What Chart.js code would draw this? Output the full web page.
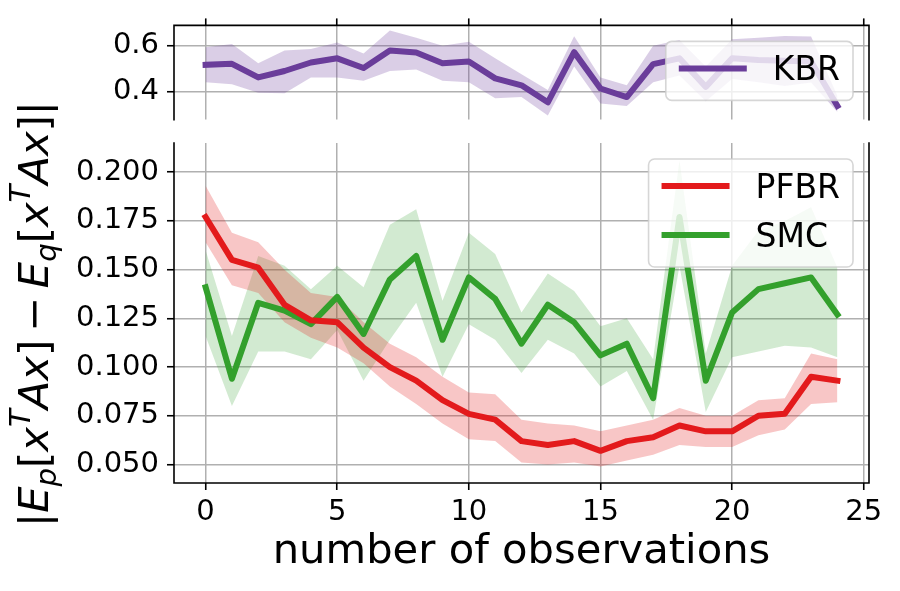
<!DOCTYPE html>
<html>
<head>
<meta charset="utf-8">
<script src="https://cdn.jsdelivr.net/npm/chart.js@4.4.0/dist/chart.umd.min.js"></script>
<style>
  body { margin: 0; background: #fff; }
  #wrap { position: relative; width: 900px; height: 591px; }
  canvas { position: absolute; left: 0; top: 0; }
</style>
</head>
<body>
<div id="wrap">
  <canvas id="bottom" width="900" height="591"></canvas>
  <canvas id="top" width="900" height="145"></canvas>
</div>
<script>
// number of observations
const obs = [0, 1, 2, 3, 4, 5, 6, 7, 8, 9, 10, 11, 12, 13, 14, 15, 16, 17, 18, 19, 20, 21, 22, 23, 24]

// KBR (top panel)
const kbrMean = [0.517, 0.521, 0.462, 0.490, 0.527, 0.545, 0.503, 0.579, 0.570, 0.524, 0.531, 0.458, 0.428, 0.354, 0.572, 0.414, 0.377, 0.520, 0.545, 0.421, 0.545, 0.538, 0.534, 0.531, 0.338]
const kbrHigh = [0.593, 0.607, 0.524, 0.579, 0.586, 0.614, 0.566, 0.666, 0.634, 0.600, 0.617, 0.545, 0.476, 0.407, 0.641, 0.462, 0.428, 0.600, 0.625, 0.510, 0.628, 0.634, 0.642, 0.640, 0.383]
const kbrLow = [0.441, 0.432, 0.396, 0.393, 0.462, 0.462, 0.448, 0.490, 0.497, 0.448, 0.441, 0.372, 0.377, 0.297, 0.510, 0.349, 0.338, 0.441, 0.470, 0.359, 0.455, 0.441, 0.425, 0.440, 0.312]

// PFBR
const pfbrMean = [0.177, 0.155, 0.151, 0.132, 0.124, 0.123, 0.110, 0.100, 0.093, 0.083, 0.076, 0.073, 0.062, 0.060, 0.062, 0.057, 0.062, 0.064, 0.070, 0.067, 0.067, 0.075, 0.076, 0.095, 0.093]
const pfbrHigh = [0.193, 0.169, 0.164, 0.150, 0.138, 0.136, 0.123, 0.112, 0.105, 0.095, 0.087, 0.086, 0.073, 0.071, 0.070, 0.067, 0.070, 0.073, 0.079, 0.075, 0.075, 0.083, 0.084, 0.107, 0.104]
const pfbrLow = [0.164, 0.142, 0.138, 0.123, 0.115, 0.110, 0.102, 0.090, 0.081, 0.071, 0.063, 0.062, 0.051, 0.050, 0.051, 0.049, 0.052, 0.055, 0.060, 0.059, 0.059, 0.065, 0.068, 0.081, 0.082]

// SMC
const smcMean = [0.141, 0.094, 0.133, 0.129, 0.122, 0.136, 0.117, 0.145, 0.157, 0.114, 0.146, 0.135, 0.112, 0.132, 0.123, 0.106, 0.112, 0.084, 0.177, 0.093, 0.128, 0.140, 0.143, 0.146, 0.127]
const smcHigh = [0.160, 0.116, 0.157, 0.152, 0.140, 0.152, 0.141, 0.173, 0.181, 0.134, 0.169, 0.158, 0.128, 0.148, 0.139, 0.121, 0.125, 0.104, 0.206, 0.107, 0.152, 0.170, 0.175, 0.182, 0.151]
const smcLow = [0.116, 0.080, 0.108, 0.108, 0.104, 0.119, 0.093, 0.114, 0.133, 0.095, 0.122, 0.114, 0.097, 0.114, 0.107, 0.090, 0.098, 0.073, 0.152, 0.077, 0.105, 0.108, 0.111, 0.110, 0.105]

// ticks
const xTicks = [0, 5, 10, 15, 20, 25]
const topYTicks = [0.4, 0.6]
const bottomYTicks = [0.05, 0.075, 0.1, 0.125, 0.15, 0.175, 0.2]

const RED = '#e31a1c', GREEN = '#33a02c', PURPLE = '#6a3d9a'
const FONT = "'DejaVu Sans', sans-serif"
const GRID = '#b0b0b0'

Chart.defaults.font.family = FONT
Chart.defaults.color = '#000'

function pts(vals) {
    return vals.map((v, i) => ({ x: obs[i], y: v }))
}

function lineSet(label, vals, color) {
    return {
        label, data: pts(vals), borderColor: color, borderWidth: 6,
        pointRadius: 0, fill: false, order: 0,
        borderJoinStyle: 'round', borderCapStyle: 'square'
    }
}

function bandSets(high, low, color) {
    return [
        { label: '_band', data: pts(high), borderColor: 'transparent', borderWidth: 0, pointRadius: 0, fill: '+1', backgroundColor: color, order: 1 },
        { label: '_band', data: pts(low), borderColor: 'transparent', borderWidth: 0, pointRadius: 0, fill: false, order: 1 }
    ]
}

// axis lines drawn by hand so the broken-axis look can drop the inner edges
const spines = {
    id: 'spines',
    afterDatasetsDraw(chart, args, opts) {
        const { ctx, chartArea: a } = chart
        ctx.save()
        ctx.strokeStyle = '#000'
        ctx.lineWidth = 1.6
        ctx.lineCap = 'square'
        ctx.beginPath()
        opts.sides.forEach(s => {
            if (s === 'left') { ctx.moveTo(a.left, a.top); ctx.lineTo(a.left, a.bottom) }
            if (s === 'right') { ctx.moveTo(a.right, a.top); ctx.lineTo(a.right, a.bottom) }
            if (s === 'top') { ctx.moveTo(a.left, a.top); ctx.lineTo(a.right, a.top) }
            if (s === 'bottom') { ctx.moveTo(a.left, a.bottom); ctx.lineTo(a.right, a.bottom) }
        })
        ctx.stroke()
        ctx.restore()
    }
}

// matplotlib-like legend box in the upper right
const boxLegend = {
    id: 'boxLegend',
    afterDatasetsDraw(chart, args, opts) {
        const { ctx, chartArea: a } = chart
        const size = 33
        ctx.save()
        ctx.font = size + 'px ' + FONT
        const textW = Math.max(...opts.items.map(it => ctx.measureText(it.label).width))
        const pad = 13, handle = 68, gap = 26, rowGap = 49
        const w = pad + handle + gap + textW + pad
        const h = 27 + rowGap * (opts.items.length - 1) + 32
        const right = a.right - 16
        const top = a.top + 16
        const left = right - w
        ctx.beginPath()
        ctx.roundRect(left, top, w, h, 6)
        ctx.fillStyle = 'rgba(255,255,255,0.8)'
        ctx.fill()
        ctx.strokeStyle = 'rgba(204,204,204,0.8)'
        ctx.lineWidth = 1.6
        ctx.stroke()
        opts.items.forEach((it, i) => {
            const y = top + 27 + rowGap * i
            ctx.beginPath()
            ctx.moveTo(left + pad, y)
            ctx.lineTo(left + pad + handle, y)
            ctx.strokeStyle = it.color
            ctx.lineWidth = 6
            ctx.stroke()
            ctx.fillStyle = '#000'
            ctx.textBaseline = 'alphabetic'
            ctx.fillText(it.label, left + pad + handle + gap, y + 12)
        })
        ctx.restore()
    }
}

// rotated math-style y label spanning both panels
const yTitle = {
    id: 'yTitle',
    afterDraw(chart) {
        const ctx = chart.ctx
        const size = 41.7
        // [text, italic, 0 normal / 1 sub / 2 sup]
        const parts = [
            ['|', 0, 0], ['E', 1, 0], ['p', 1, 1], ['[', 0, 0], ['x', 1, 0], ['T', 1, 2], ['A', 1, 0], ['x', 1, 0], [']', 0, 0],
            ['\u2009\u2212\u2009', 0, 0],
            ['E', 1, 0], ['q', 1, 1], ['[', 0, 0], ['x', 1, 0], ['T', 1, 2], ['A', 1, 0], ['x', 1, 0], [']', 0, 0], ['|', 0, 0]
        ]
        const fontOf = p => (p[1] ? 'italic ' : '') + (p[2] ? size * 0.7 : size) + 'px ' + FONT
        ctx.save()
        let total = 0
        const widths = parts.map(p => { ctx.font = fontOf(p); const w = ctx.measureText(p[0]).width; total += w; return w })
        ctx.translate(48, 314)
        ctx.rotate(-Math.PI / 2)
        ctx.fillStyle = '#000'
        ctx.textBaseline = 'alphabetic'
        let x = -total / 2
        parts.forEach((p, i) => {
            ctx.font = fontOf(p)
            const dy = p[2] === 1 ? size * 0.2 : p[2] === 2 ? -size * 0.42 : 0
            ctx.fillText(p[0], x, dy)
            x += widths[i]
        })
        ctx.restore()
    }
}

const tickFont = { size: 29 }

new Chart(document.getElementById('bottom'), {
    type: 'line',
    data: {
        datasets: [
            lineSet('PFBR', pfbrMean, RED),
            lineSet('SMC', smcMean, GREEN),
            ...bandSets(pfbrHigh, pfbrLow, 'rgba(227,26,28,0.25)'),
            ...bandSets(smcHigh, smcLow, 'rgba(51,160,44,0.22)')
        ]
    },
    options: {
        responsive: false,
        animation: false,
        layout: { padding: { top: 143, right: 31, left: 0, bottom: 0 } },
        scales: {
            x: {
                type: 'linear', min: -1.2, max: 25.2,
                afterBuildTicks: s => { s.ticks = xTicks.map(v => ({ value: v })) },
                afterFit: s => { s.height = 108 },
                ticks: { font: tickFont, padding: 5, maxRotation: 0, callback: v => String(v) },
                grid: { color: GRID, lineWidth: 1.5, tickLength: 7, tickColor: '#000', tickWidth: 1.6 },
                border: { display: false },
                title: { display: true, text: 'number of observations', font: { size: 41.7 }, padding: { top: 0, bottom: 14 } }
            },
            y: {
                min: 0.0405, max: 0.215,
                afterBuildTicks: s => { s.ticks = bottomYTicks.map(v => ({ value: v })) },
                afterFit: s => { s.width = 174 },
                ticks: { font: tickFont, padding: 8, callback: v => v.toFixed(3) },
                grid: { color: GRID, lineWidth: 1.5, tickLength: 7, tickColor: '#000', tickWidth: 1.6 },
                border: { display: false }
            }
        },
        plugins: {
            legend: { display: false },
            tooltip: { enabled: false },
            spines: { sides: ['left', 'right', 'bottom'] },
            boxLegend: { items: [{ label: 'PFBR', color: RED }, { label: 'SMC', color: GREEN }] }
        }
    },
    plugins: [spines, boxLegend, yTitle]
})

new Chart(document.getElementById('top'), {
    type: 'line',
    data: {
        datasets: [
            lineSet('KBR', kbrMean, PURPLE),
            ...bandSets(kbrHigh, kbrLow, 'rgba(106,61,154,0.25)')
        ]
    },
    options: {
        responsive: false,
        animation: false,
        layout: { padding: { top: 0, right: 31, left: 0, bottom: 9 } },
        scales: {
            x: {
                type: 'linear', position: 'top', min: -1.2, max: 25.2,
                afterBuildTicks: s => { s.ticks = xTicks.map(v => ({ value: v })) },
                afterFit: s => { s.height = 22 },
                ticks: { display: false },
                grid: { color: GRID, lineWidth: 1.5, tickLength: 7, tickColor: '#000', tickWidth: 1.6 },
                border: { display: false }
            },
            y: {
                min: 0.279, max: 0.688,
                afterBuildTicks: s => { s.ticks = topYTicks.map(v => ({ value: v })) },
                afterFit: s => { s.width = 174 },
                ticks: { font: tickFont, padding: 8, callback: v => v.toFixed(1) },
                grid: { color: GRID, lineWidth: 1.5, tickLength: 7, tickColor: '#000', tickWidth: 1.6 },
                border: { display: false }
            }
        },
        plugins: {
            legend: { display: false },
            tooltip: { enabled: false },
            spines: { sides: ['left', 'right', 'top'] },
            boxLegend: { items: [{ label: 'KBR', color: PURPLE }] }
        }
    },
    plugins: [spines, boxLegend]
})
</script>
</body>
</html>
